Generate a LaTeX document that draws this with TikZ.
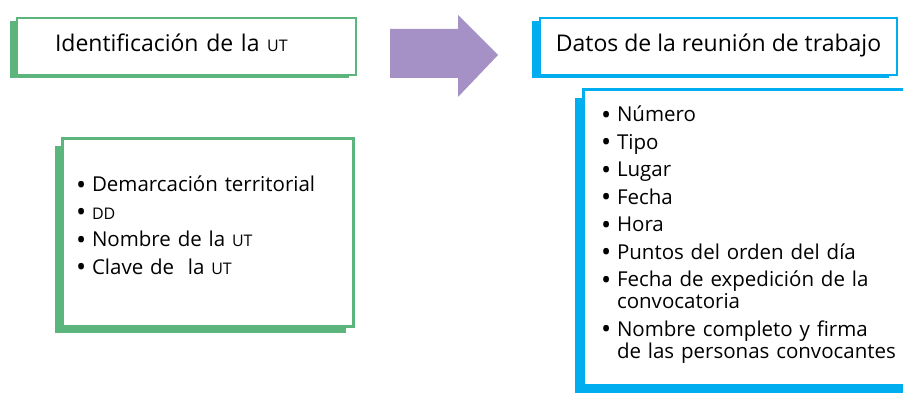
\documentclass[tikz,border=0pt]{standalone}
\usepackage{fontspec}
\setmainfont{Open Sans}
\usetikzlibrary{positioning, shadows}
\definecolor{verdeut}{RGB}{91,181,125}
\definecolor{azulreu}{RGB}{0,174,239}
\definecolor{lila}{RGB}{165,145,197}
\newcommand{\sigla}[1]{{\fontsize{16}{16}\selectfont #1}}
\newcommand{\punto}{\makebox[14pt][l]{\hspace*{-2pt}\raisebox{-2.5pt}{\fontsize{27}{22}\selectfont •}}}
\newcommand{\sangria}{\hspace*{14pt}}
\tikzstyle{titulo} = [rectangle, fill=white, line width=2pt, inner ysep=0pt, outer sep=0pt, text height=34pt, text depth=23pt, font=\fontsize{23}{26}\selectfont]
\tikzstyle{lista} = [rectangle, fill=white, line width=3pt, inner ysep=0pt, outer sep=0pt, align=left, font=\fontsize{20.5}{22}\selectfont]
\tikzstyle{flecha} = [fill=lila]
\tikzset{sombra/.style n args={3}{drop shadow={fill=#1, opacity=1, shadow xshift=#2, shadow yshift=#3}}}

\begin{document}
\begin{tikzpicture}[x=1pt, y=-1pt]
	\clip (0,0) rectangle (903,393);
	%标题框
	\node (ident) [titulo, draw=verdeut, sombra={verdeut}{-7pt}{-3pt}, anchor=north west, text width=263pt, inner xsep=38pt, align=left] at (17,18) {Identificación de la \sigla{UT}};
	\node (reunion) [titulo, draw=azulreu, sombra={azulreu}{-8pt}{-3pt}, right=184pt of ident, minimum width=357pt, inner xsep=0pt] {Datos de la reunión de trabajo};
	
	%列表框
	\node (datosut) [lista, draw=verdeut, sombra={verdeut}{-7pt}{-7pt}, below=64pt of ident.south west, anchor=north west, xshift=45pt, text width=259pt, inner xsep=16pt, text height=53pt, text depth=134pt] {\punto Demarcación territorial\\[5.5pt]
		\punto\sigla{DD}\\[5.5pt]
		\punto Nombre de la \sigla{UT}\\[5.5pt]
		\punto Clave de~ la \sigla{UT}};
	\node (datosreu) [lista, draw=azulreu, sombra={azulreu}{-8pt}{-8pt}, below=15pt of reunion.south west, anchor=north west, xshift=43pt, text width=320pt, inner xsep=20pt, text height=32pt, text depth=263pt] {\punto Número\\[5.5pt]
		\punto Tipo\\[5.5pt]
		\punto Lugar\\[5.5pt]
		\punto Fecha\\[5.5pt]
		\punto Hora\\[5.5pt]
		\punto Puntos del orden del día\\[5.5pt]
		\punto Fecha de expedición de la\\
		\sangria convocatoria\\[5.5pt]
		\punto Nombre completo y firma\\
		\sangria de las personas convocantes};
	
	%箭头
	\fill [flecha] (390,29) -- (458,29) -- (458,15) -- (498,55) -- (458,97) -- (458,78) -- (390,78) -- cycle;
\end{tikzpicture}
\end{document}
